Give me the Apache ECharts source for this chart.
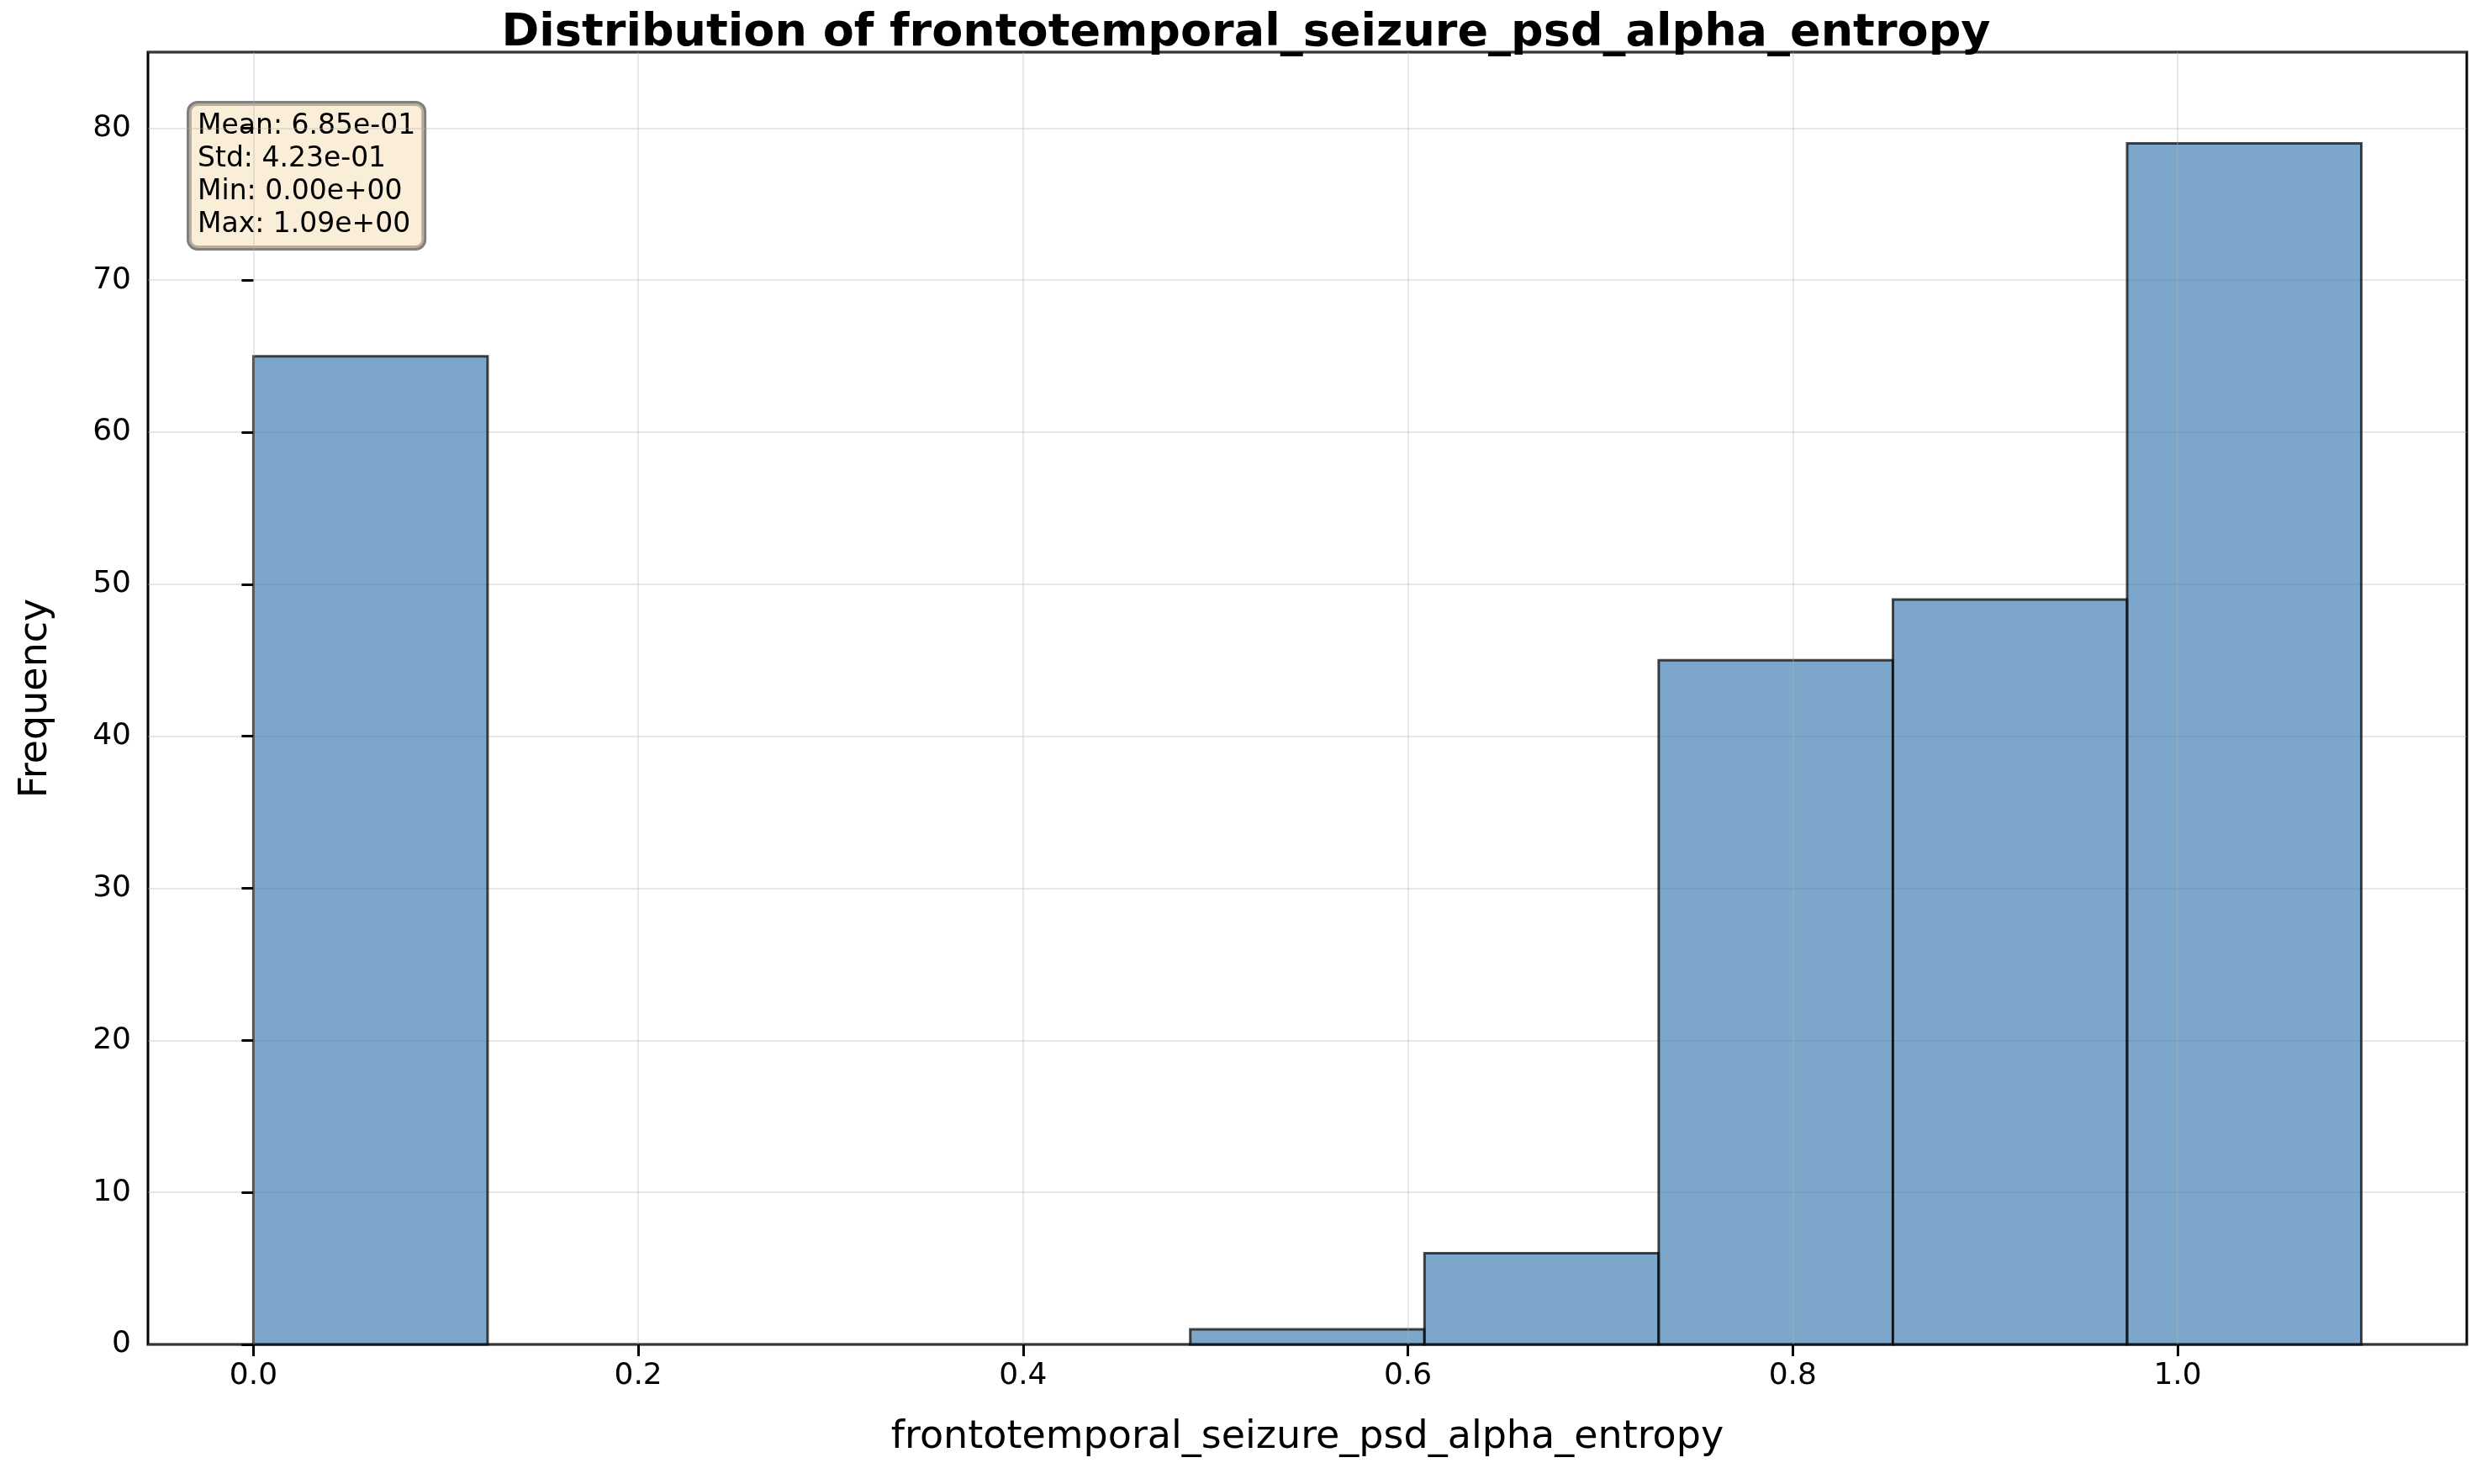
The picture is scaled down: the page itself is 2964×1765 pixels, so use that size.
<!DOCTYPE html>
<html><head><meta charset="utf-8">
<script src="https://cdn.jsdelivr.net/npm/echarts@6/dist/echarts.min.js"></script>
<style>html,body{margin:0;padding:0;background:#fff}#c{width:2964px;height:1765px}</style>
</head><body><div id="c"></div>
<script>
const binStart = [0, 0.12172, 0.24344, 0.36517, 0.48689, 0.60861, 0.73033, 0.85206, 0.97378];
const binWidth = 0.12172;
const counts = [65, 0, 0, 0, 1, 6, 45, 49, 79];
const xTicks = [0, 0.2, 0.4, 0.6, 0.8, 1.0];
const statsLines = ['Mean: 6.85e-01', 'Std: 4.23e-01', 'Min: 0.00e+00', 'Max: 1.09e+00'];

const font = 'DejaVu Sans';
const chart = echarts.init(document.getElementById('c'));
chart.setOption({
  animation: false,
  title: { text: 'Distribution of frontotemporal_seizure_psd_alpha_entropy', left: 'center', top: 8,
    textStyle: { fontFamily: font, fontWeight: 'bold', fontSize: 54, color: '#000' } },
  grid: { left: 176, right: 30, top: 62, bottom: 166, show: true, borderColor: '#000', borderWidth: 3 },
  xAxis: { type: 'value', min: -0.0548, max: 1.1503,
    name: 'frontotemporal_seizure_psd_alpha_entropy', nameLocation: 'middle', nameGap: 88,
    nameTextStyle: { fontFamily: font, fontSize: 46, color: '#000' },
    axisLine: { show: false },
    axisTick: { show: true, customValues: xTicks, length: 14, lineStyle: { color: '#000', width: 3 } },
    axisLabel: { customValues: xTicks, fontFamily: font, fontSize: 36, color: '#000', margin: 20, formatter: v => v.toFixed(1) },
    splitLine: { show: false } },
  yAxis: { type: 'value', min: 0, max: 85, interval: 10,
    name: 'Frequency', nameLocation: 'middle', nameGap: 110,
    nameTextStyle: { fontFamily: font, fontSize: 46, color: '#000' },
    axisLine: { show: false },
    axisTick: { show: true, length: 14, lineStyle: { color: '#000', width: 3 } },
    axisLabel: { fontFamily: font, fontSize: 36, color: '#000', margin: 20, showMaxLabel: false },
    splitLine: { show: true, lineStyle: { color: 'rgba(176,176,176,0.3)', width: 2 } } },
  series: [
    { type: 'line', data: [], silent: true,
      markLine: { symbol: 'none', silent: true, label: { show: false },
        lineStyle: { color: 'rgba(176,176,176,0.3)', width: 2, type: 'solid' },
        data: xTicks.map(v => ({ xAxis: v })) } },
    { type: 'custom', data: counts.map((c, i) => [binStart[i], c]),
      renderItem: (params, api) => {
        const x0 = api.value(0), h = api.value(1);
        if (h <= 0) return null;
        const p0 = api.coord([x0, 0]), p1 = api.coord([x0 + binWidth, h]);
        return { type: 'rect', shape: { x: p0[0], y: p1[1], width: p1[0] - p0[0], height: p0[1] - p1[1] },
          style: { fill: 'rgba(70,130,180,0.7)', stroke: 'rgba(0,0,0,0.7)', lineWidth: 3 } };
      } }
  ],
  graphic: [{ type: 'text', left: 222, top: 120,
    style: { text: statsLines.join('\n'), fontFamily: font, fontSize: 33, lineHeight: 39, fill: '#000',
      backgroundColor: 'rgba(245,222,179,0.5)', borderColor: 'rgba(0,0,0,0.5)', borderWidth: 3,
      borderRadius: 10, padding: [8, 10, 8, 10] } }]
});
</script></body></html>
